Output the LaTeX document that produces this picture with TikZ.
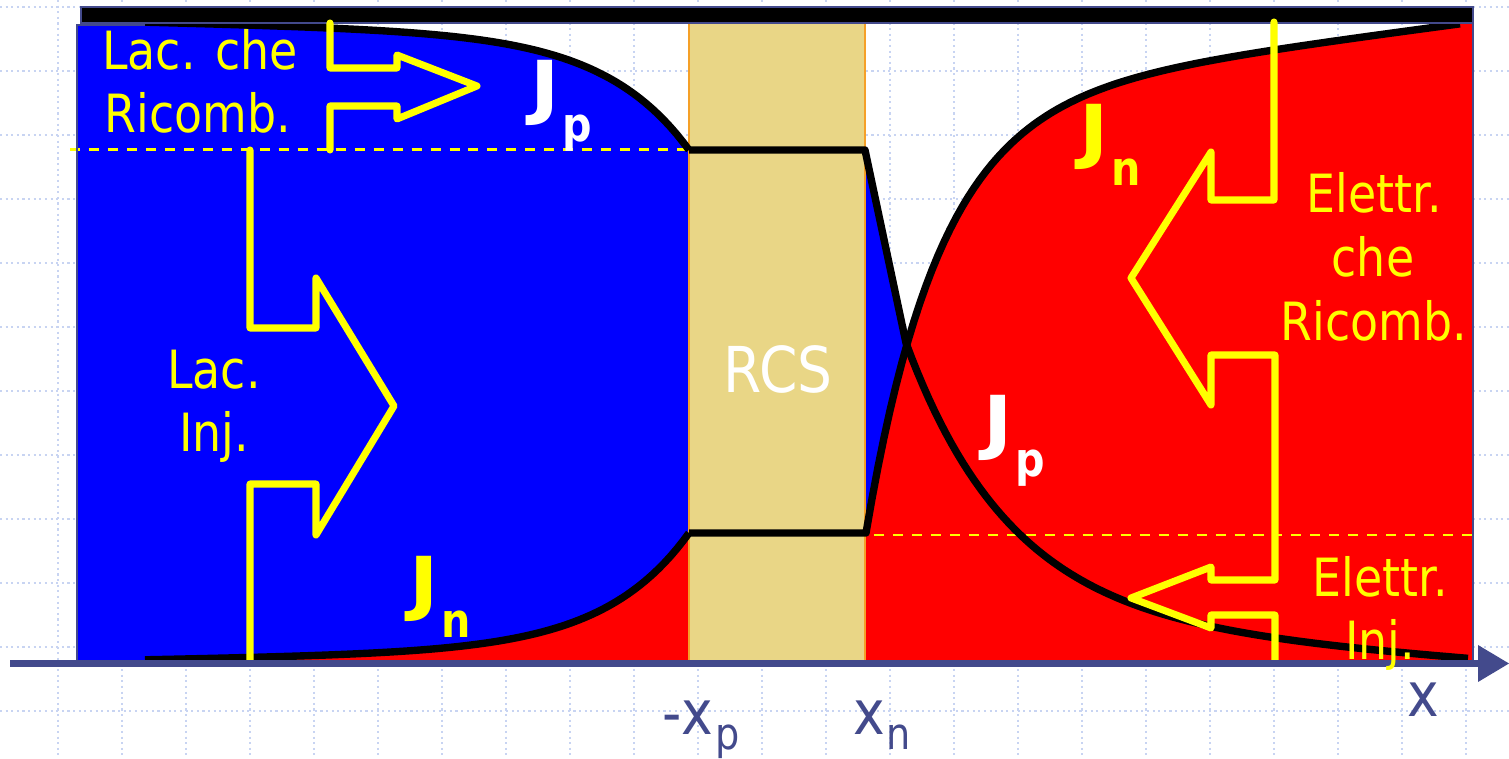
\documentclass[tikz,border=0pt]{standalone}
\usepackage{fontspec}
\setmainfont{DejaVu Sans}[FakeStretch=0.87]
\newfontfamily\jfont{DejaVu Sans}[FakeStretch=1.12]
\definecolor{axisblue}{RGB}{67,74,140}
\definecolor{gridc}{RGB}{200,212,242}
\definecolor{tanc}{RGB}{233,214,134}
\definecolor{edgeor}{RGB}{245,160,40}
\definecolor{yel}{RGB}{255,255,0}
\definecolor{pblue}{RGB}{0,0,255}
\definecolor{nred}{RGB}{255,0,0}
\newcommand\Jlab[1]{{\jfont\fontsize{40}{40}\selectfont\bfseries J}\kern1.5pt\raisebox{-17pt}{\fontsize{27}{27}\selectfont\bfseries #1}}
\begin{document}
\begin{tikzpicture}[x=0.02cm,y=-0.02cm,
  gridline/.style={gridc, line width=1.1pt, dash pattern=on 1.2pt off 2pt},
  curve/.style={draw=black, line width=4.2pt, line join=round},
  yarrow/.style={draw=yel, line width=4pt, line join=round, line cap=round},
  ydash/.style={draw=yel, line width=1.7pt, dash pattern=on 5.7pt off 5.1pt},
  lab/.style={text=yel, font=\fontsize{30}{36}\selectfont, anchor=base, inner sep=0pt},
  jlab/.style={anchor=base west, inner sep=0pt},
  axlab/.style={text=axisblue, anchor=base west, inner sep=0pt, font=\fontsize{35}{35}\selectfont}]
\useasboundingbox (0,0) rectangle (1509,759);
\fill[white] (0,0) rectangle (1509,759);
% grid
\foreach \x in {58,122,...,1470} \draw[gridline] (\x,0) -- (\x,759);
\foreach \y in {7,71,...,715} \draw[gridline] (0,\y) -- (1509,\y);
% left p region
\fill[pblue] (77,25) -- (145,25) -- plot[domain=145:689, samples=90] (\x,{22+115*exp((\x-689)/85)+13*((\x-145)/544)}) -- (689,660) -- (77,660) -- cycle;
\fill[nred] plot[domain=145:689, samples=90] (\x,{660-117*exp((\x-689)/85)-10*((\x-145)/544)}) -- (689,660) -- cycle;
% right n region
\fill[nred] (866,660) -- plot[domain=866:1473, samples=100] (\x,{22+431*exp(-(\x-866)/74)+80*((1473-\x)/607)}) -- (1473,660) -- cycle;
\fill[pblue] (866,150) -- (906,343) -- plot[domain=906:866, samples=12] (\x,{22+431*exp(-(\x-866)/74)+80*((1473-\x)/607)}) -- cycle;
% depletion region
\fill[tanc] (689,22) rectangle (865,660);
\draw[edgeor, line width=0.8pt] (689,22) -- (689,660) (865,22) -- (865,660);
% dashed levels
\draw[ydash] (70,150) -- (689,150);
\draw[ydash] (855,535) -- (1473,535);
% curves
\draw[curve] plot[domain=145:689, samples=90] (\x,{22+115*exp((\x-689)/85)+13*((\x-145)/544)});
\draw[curve] plot[domain=145:689, samples=90] (\x,{660-117*exp((\x-689)/85)-10*((\x-145)/544)});
\draw[curve] (689,150) -- (865,150) -- (906,343) -- plot[domain=906:1468, samples=100] (\x,{660-277*exp(-(\x-906)/105)-40*((1473-\x)/567)});
\draw[curve] (689,533) -- (866,533) -- plot[domain=866:1460, samples=100] (\x,{22+431*exp(-(\x-866)/74)+80*((1473-\x)/607)});
% outlines
\draw[axisblue, line width=1pt] (77,660) -- (77,25) -- (145,25);
\draw[axisblue, line width=1pt] (1473,22) -- (1473,660);
\filldraw[fill=black, draw=axisblue, line width=0.8pt] (81,7) rectangle (1473,23);
% yellow block arrows
\draw[yarrow] (330,23) -- (330,68) -- (397,68) -- (397,55) -- (477,86) -- (397,119) -- (397,106) -- (330,106) -- (330,150);
\draw[yarrow] (250,150) -- (250,328) -- (316,328) -- (316,278) -- (394,406) -- (316,535) -- (316,484) -- (250,484) -- (250,660);
\draw[yarrow] (1274,22) -- (1274,200) -- (1211,200) -- (1211,152) -- (1131,278) -- (1211,405) -- (1211,355) -- (1275,355) -- (1275,580) -- (1211,580) -- (1211,567) -- (1131,598) -- (1211,628) -- (1211,615) -- (1275,615) -- (1275,660);
% axis
\coordinate (axL) at (10,663.5);
\coordinate (axR) at (1479,663.5);
\draw[axisblue, line width=4pt] (axL) -- (axR);
\fill[axisblue] (1478,645) -- (1509,663.5) -- (1478,682) -- cycle;
% labels
\node[lab] (t1) at (200,70) {Lac. che};
\node[lab] (t2) at (198,133) {Ricomb.};
\node[lab] (t3) at (214,389) {Lac.};
\node[lab] (t4) at (214,452) {Inj.};
\node[lab] (t5) at (1374,213) {Elettr.};
\node[lab] (t6) at (1373,277) {che};
\node[lab] (t7) at (1374,341) {Ricomb.};
\node[lab] (t8) at (1380,597) {Elettr.};
\node[lab] (t9) at (1380,660) {Inj.};
\node[anchor=base, inner sep=0pt, text=white, font=\fontsize{36}{36}\selectfont] (rcs) at (778,393) {RCS};
\node[jlab, text=white] (jp1) at (530,112) {\Jlab{p}};
\node[jlab, text=yel] (jn1) at (409,608) {\Jlab{n}};
\node[jlab, text=yel] (jn2) at (1079,156) {\Jlab{n}};
\node[jlab, text=white] (jp2) at (983,447) {\Jlab{p}};
\node[axlab] (xp) at (662,735) {-x\kern1pt\raisebox{-8pt}{\fontsize{25}{25}\selectfont p}};
\node[axlab] (xn) at (853,735) {x\kern1pt\raisebox{-8pt}{\fontsize{25}{25}\selectfont n}};
\node[axlab] (xx) at (1407,717) {x};
\end{tikzpicture}
\end{document}
